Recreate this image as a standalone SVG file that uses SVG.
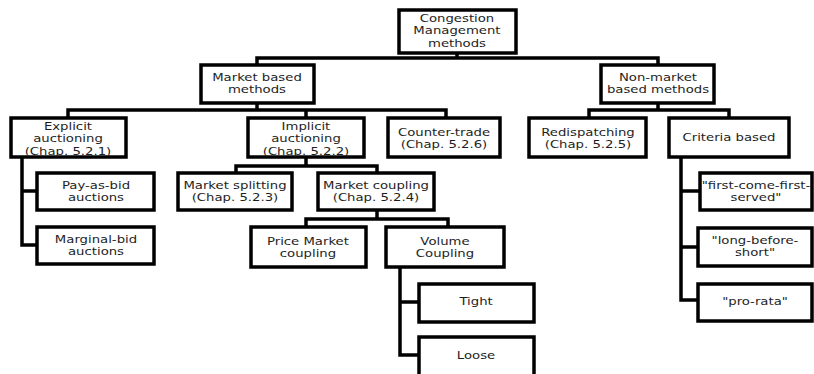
<svg xmlns="http://www.w3.org/2000/svg" width="814" height="374" viewBox="0 0 814 374">
<style>
.b{fill:#fff;stroke:#000;stroke-width:3.5}
.t{font-family:"DejaVu Sans","Open Sans",sans-serif;font-size:10.6px;fill:#1e1e1e;text-anchor:middle;transform-box:fill-box;transform-origin:center;transform:scaleX(1.25)}
.c{fill:none;stroke:#000;stroke-width:3.5;stroke-linejoin:miter}
</style>
<rect width="814" height="374" fill="#fff"/>
<g id="connectors">
<path class="c" d="M457 53V58H257V65M457 58H658V65"/>
<path class="c" d="M257 103V110H68V118M257 110H306V118M257 110H446V118"/>
<path class="c" d="M658 103V110H589V118M658 110H729V118"/>
<path class="c" d="M22 157V245H36M22 191H36"/>
<path class="c" d="M306 157V166H236V172M306 166H377V172"/>
<path class="c" d="M377 210V219H306V227M377 219H448V227"/>
<path class="c" d="M400 267V355H418M400 302H418"/>
<path class="c" d="M681 157V300H697M681 191H700M681 247H697"/>
</g>
<g id="root"><rect class="b" x="399" y="10" width="117" height="43"/><text class="t" x="457" y="22">Congestion</text><text class="t" x="457" y="34.5">Management</text><text class="t" x="457" y="47">methods</text></g>
<g id="market"><rect class="b" x="201" y="65" width="113" height="38"/><text class="t" x="257" y="81">Market based</text><text class="t" x="257" y="93.5">methods</text></g>
<g id="nonmarket"><rect class="b" x="601" y="65" width="113" height="38"/><text class="t" x="658" y="81">Non-market</text><text class="t" x="658" y="93.5">based methods</text></g>
<g id="explicit"><rect class="b" x="11" y="118" width="115" height="39"/><text class="t" x="68" y="130">Explicit</text><text class="t" x="68" y="142.5">auctioning</text><text class="t" x="68" y="155">(Chap. 5.2.1)</text></g>
<g id="implicit"><rect class="b" x="248" y="118" width="116" height="39"/><text class="t" x="306" y="130">Implicit</text><text class="t" x="306" y="142.5">auctioning</text><text class="t" x="306" y="155">(Chap. 5.2.2)</text></g>
<g id="countertrade"><rect class="b" x="388" y="118" width="112" height="39"/><text class="t" x="444" y="136">Counter-trade</text><text class="t" x="444" y="148.5">(Chap. 5.2.6)</text></g>
<g id="redispatching"><rect class="b" x="529" y="118" width="117" height="39"/><text class="t" x="588" y="136">Redispatching</text><text class="t" x="588" y="148.5">(Chap. 5.2.5)</text></g>
<g id="criteria"><rect class="b" x="669" y="118" width="120" height="39"/><text class="t" x="729" y="141">Criteria based</text></g>
<g id="payasbid"><rect class="b" x="37" y="173" width="117" height="37"/><text class="t" x="96" y="189">Pay-as-bid</text><text class="t" x="96" y="201.5">auctions</text></g>
<g id="marginal"><rect class="b" x="37" y="227" width="117" height="37"/><text class="t" x="96" y="243">Marginal-bid</text><text class="t" x="96" y="255.5">auctions</text></g>
<g id="splitting"><rect class="b" x="178" y="173" width="114" height="37"/><text class="t" x="235" y="189">Market splitting</text><text class="t" x="235" y="201.5">(Chap. 5.2.3)</text></g>
<g id="coupling"><rect class="b" x="318" y="173" width="116" height="37"/><text class="t" x="376" y="189">Market coupling</text><text class="t" x="376" y="201.5">(Chap. 5.2.4)</text></g>
<g id="price"><rect class="b" x="251" y="227" width="115" height="40"/><text class="t" x="308" y="245">Price Market</text><text class="t" x="308" y="257.5">coupling</text></g>
<g id="volume"><rect class="b" x="386" y="227" width="118" height="40"/><text class="t" x="445" y="245">Volume</text><text class="t" x="445" y="257.5">Coupling</text></g>
<g id="tight"><rect class="b" x="419" y="284" width="115" height="38"/><text class="t" x="476" y="305">Tight</text></g>
<g id="loose"><rect class="b" x="419" y="337" width="115" height="40"/><text class="t" x="476" y="359">Loose</text></g>
<g id="fcfs"><rect class="b" x="700" y="173" width="112" height="37"/><text class="t" x="756" y="189">"first-come-first-</text><text class="t" x="756" y="201.5">served"</text></g>
<g id="lbs"><rect class="b" x="698" y="228" width="114" height="38"/><text class="t" x="755" y="244">"long-before-</text><text class="t" x="755" y="256.5">short"</text></g>
<g id="prorata"><rect class="b" x="698" y="284" width="114" height="37"/><text class="t" x="755" y="305">"pro-rata"</text></g>
</svg>
